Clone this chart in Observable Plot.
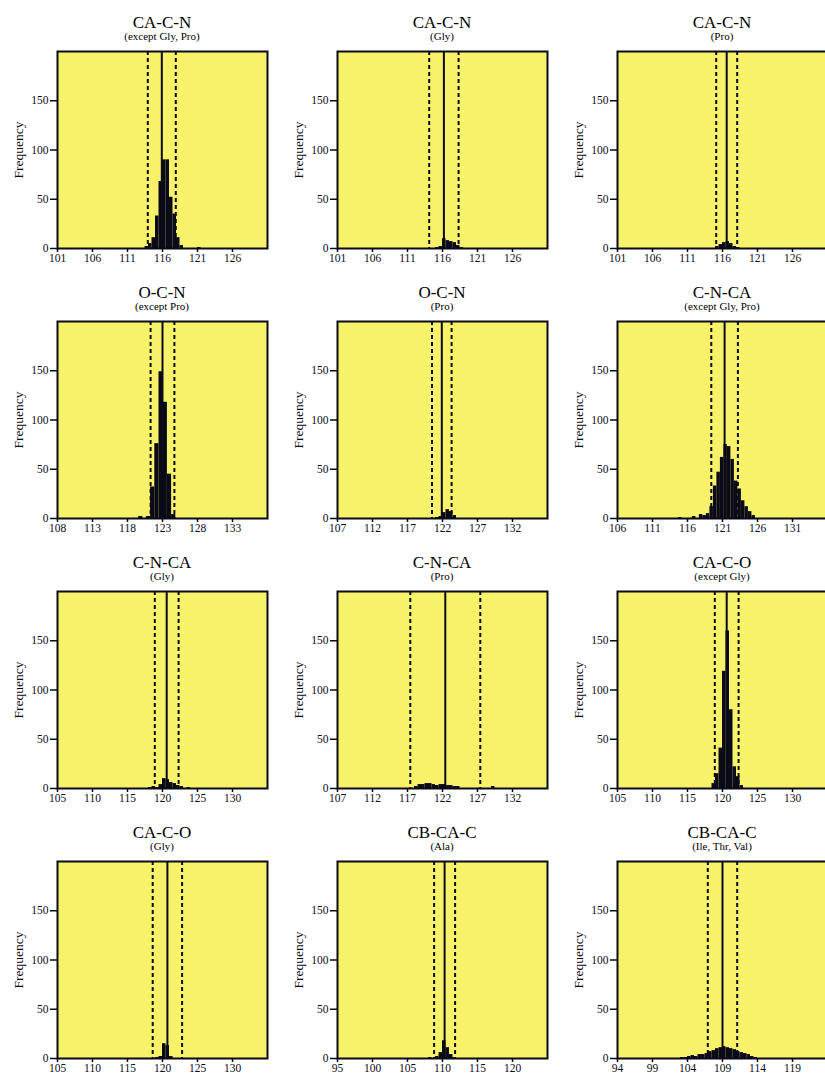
<!DOCTYPE html>
<html><head><meta charset="utf-8">
<script src="https://cdn.jsdelivr.net/npm/d3@7"></script>
<script src="https://cdn.jsdelivr.net/npm/@observablehq/plot@0.6"></script>
<style>
body{margin:0;background:#fff;width:825px;height:1074px;overflow:hidden;position:relative;font-family:"Liberation Serif",serif;color:#000;}
.cell{position:absolute;width:280px;height:270px;}
.t{position:absolute;left:57px;width:210px;text-align:center;top:14px;font-size:17px;line-height:17px;white-space:nowrap;}
.s{position:absolute;left:57px;width:210px;text-align:center;top:31px;font-size:11px;line-height:11px;white-space:nowrap;}
.cell svg{position:absolute;left:0;top:45px;overflow:visible;}
</style></head><body>
<script>
const titles = ["CA-C-N","CA-C-N","CA-C-N","O-C-N","O-C-N","C-N-CA","C-N-CA","C-N-CA","CA-C-O","CA-C-O","CB-CA-C","CB-CA-C"];
const subtitles = ["(except Gly, Pro)","(Gly)","(Pro)","(except Pro)","(Pro)","(except Gly, Pro)","(Gly)","(Pro)","(except Gly)","(Gly)","(Ala)","(Ile, Thr, Val)"];
const xStart = [101,101,101,108,107,106,105,107,105,105,95,94];
const means = [115.9,116.2,116.6,123.0,121.9,121.3,120.6,122.4,120.6,120.7,110.3,109.0];
const sds = [2.0,2.1,1.5,1.7,1.4,1.9,1.7,5.0,1.7,2.1,1.5,2.1];
const binWidths = [0.5,0.5,0.5,0.6,0.5,0.5,0.5,0.5,0.5,0.5,0.5,0.5];
const yTicks = [0,50,100,150];

// histogram bins: [left edge, count]
const binsCaCNexGlyPro = [[113.5,2],[114,5],[114.5,11],[115,33],[115.5,68],[116,90],[116.5,90],[117,52],[117.5,35],[118,11],[118.5,3],[121,1]];
const binsCaCNGly = [[115,1],[115.5,2],[116,10],[116.5,8],[117,7],[117.5,6],[118,3],[118.5,1]];
const binsCaCNPro = [[115,2],[115.5,4],[116,6],[116.5,7],[117,5],[117.5,2],[118,1]];
const binsOCNexPro = [[119.6,2],[120.7,2],[121.3,32],[121.9,76],[122.5,149],[123.1,118],[123.7,45],[124.3,4]];
const binsOCNPro = [[121,1],[121.5,2],[122,6],[122.5,9],[123,7],[123.5,3]];
const binsCNCAexGlyPro = [[114.7,1],[116.7,2],[117.7,4],[118.2,3],[118.7,5],[119.2,12],[119.7,33],[120.2,47],[120.7,62],[121.2,75],[121.7,73],[122.2,60],[122.7,38],[123.2,30],[123.7,18],[124.2,12],[124.7,7],[125.2,3]];
const binsCNCAGly = [[118,1],[118.5,2],[119,1],[119.5,4],[120,10],[120.5,9],[121,6],[121.5,5],[122,3],[122.5,2],[123.5,1]];
const binsCNCAPro = [[118,2],[118.5,4],[119,4],[119.5,5],[120,5],[120.5,4],[121,3],[121.5,4],[122,4],[122.5,3],[123,3],[123.5,2],[124,2],[129,2]];
const binsCaCOexGly = [[118.5,5],[119,15],[119.5,41],[120,119],[120.5,160],[121,80],[121.5,22],[122,12],[122.5,3]];
const binsCaCOGly = [[119,1],[119.5,2],[120,15],[120.5,13],[121,2]];
const binsCbCaCAla = [[108,1],[109,2],[109.5,6],[110,18],[110.5,11],[111,4],[111.5,1]];
const binsCbCaCIleThrVal = [[103,1],[103.5,1],[104,2],[104.5,3],[105,2],[105.5,4],[106,4],[106.5,5],[107,7],[107.5,8],[108,10],[108.5,11],[109,12],[109.5,11],[110,10],[110.5,9],[111,7],[111.5,6],[112,5],[112.5,4],[113,2],[113.5,1]];

const allBins = [binsCaCNexGlyPro,binsCaCNGly,binsCaCNPro,binsOCNexPro,binsOCNPro,binsCNCAexGlyPro,binsCNCAGly,binsCNCAPro,binsCaCOexGly,binsCaCOGly,binsCbCaCAla,binsCbCaCIleThrVal];

const yellow = "#f8f26a";
const ink = "#0a0a18";

allBins.forEach((bins, i) => {
  const col = i % 3, row = Math.floor(i / 3);
  const cell = document.createElement("div");
  cell.className = "cell";
  cell.style.left = (col * 280) + "px";
  cell.style.top = (row * 270) + "px";
  const t = document.createElement("div"); t.className = "t"; t.textContent = titles[i];
  const s = document.createElement("div"); s.className = "s"; s.textContent = subtitles[i];
  cell.appendChild(t); cell.appendChild(s);
  const x0 = xStart[i], bw = binWidths[i];
  const chart = Plot.plot({
    width: 280, height: 225,
    marginTop: 6, marginBottom: 22, marginLeft: 57, marginRight: 13,
    style: {fontFamily: "Liberation Serif, serif", fontSize: "11px", color: ink, background: "transparent"},
    x: {domain: [x0, x0 + 30]},
    y: {domain: [0, 200]},
    marks: [
      Plot.frame({fill: yellow}),
      Plot.rectY(bins, {x1: d => d[0], x2: d => d[0] + bw, y: d => d[1], fill: ink}),
      Plot.ruleX([means[i] - sds[i], means[i] + sds[i]], {stroke: ink, strokeWidth: 2, strokeDasharray: "4,3"}),
      Plot.ruleX([means[i]], {stroke: ink, strokeWidth: 2}),
      Plot.frame({stroke: ink, strokeWidth: 2}),
      Plot.axisX({ticks: d3.range(x0, x0 + 26, 5), tickSize: 4, tickPadding: 1, tickFormat: d => String(d), label: null, fontSize: 11.5, stroke: ink, strokeWidth: 1.5}),
      Plot.axisY({ticks: yTicks, tickSize: 7, tickPadding: 2, tickFormat: d => String(d), label: null, fontSize: 11.5, stroke: ink, strokeWidth: 1.5}),
      Plot.axisY({ticks: [], label: "Frequency", labelAnchor: "center", labelArrow: "none", labelOffset: 44, fontSize: 13.5})
    ]
  });
  cell.appendChild(chart);
  document.body.appendChild(cell);
});
</script>
</body></html>
